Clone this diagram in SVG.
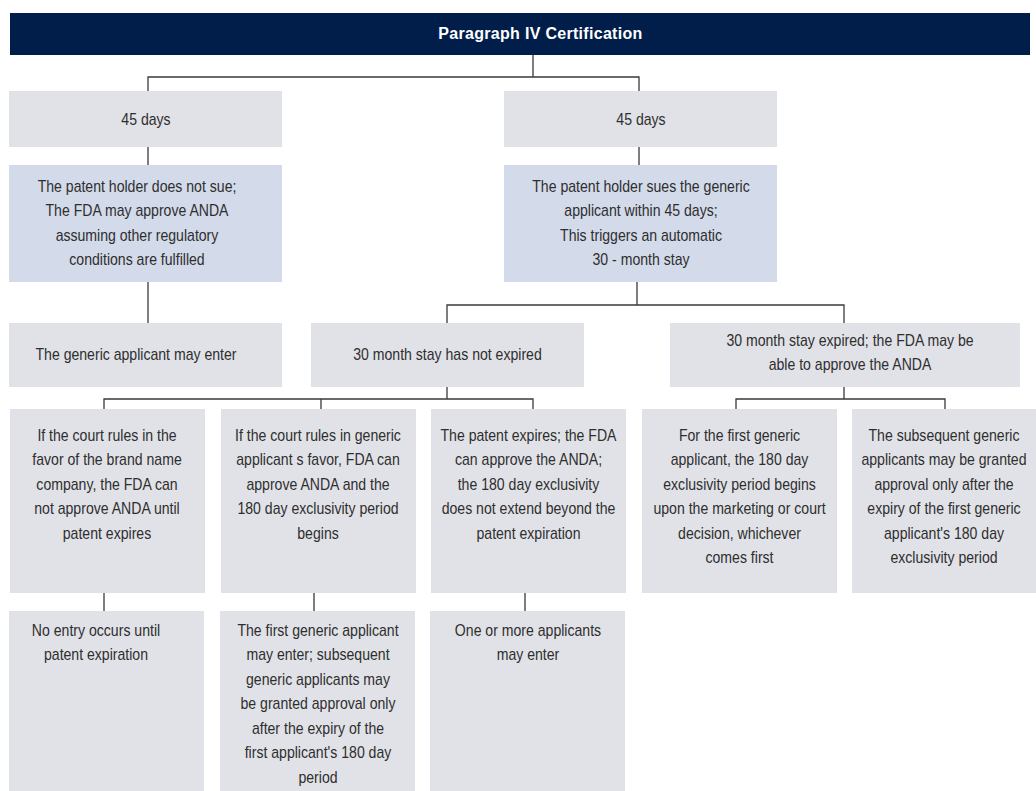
<svg xmlns="http://www.w3.org/2000/svg" width="1036" height="791" viewBox="0 0 1036 791">
  <style>
    .box { fill: #e1e2e7; }
    .hl { fill: #d3daea; }
    .hdr { fill: #011e4a; }
    .t { font-family: "Liberation Sans", Arial, sans-serif; font-size: 16px; fill: #2e2e2e; text-anchor: middle; }
    .ht { font-family: "Liberation Sans", Arial, sans-serif; font-size: 16px; font-weight: bold; fill: #ffffff; text-anchor: middle; letter-spacing: 0.3px; }
    .ln { fill: none; stroke: #3a3a3a; stroke-width: 1.3; }
  </style>
  <rect width="1036" height="791" fill="#ffffff"/>

  <!-- connectors -->
  <g id="connectors" class="ln">
    <path d="M533,55 V77 M148,91 V77 H639 V91"/>
    <path d="M148,147 V165 M639,147 V165"/>
    <path d="M148,282 V323"/>
    <path d="M637,282 V305 M447,323 V305 H844 V323"/>
    <path d="M447,387 V399 M104,409 V399 H533 V409 M321,399 V409"/>
    <path d="M844,387 V399 M736,409 V399 H945 V409"/>
    <path d="M104,593 V611 M314,593 V611 M525,593 V611"/>
  </g>

  <g id="header">
    <rect class="hdr" x="10" y="13" width="1020" height="42"/>
    <text class="ht" x="540.5" y="38.5">Paragraph IV Certification</text>
  </g>

  <!-- body text is set condensed: each label is centred on its own axis and squeezed horizontally -->
  <g id="days-left">
    <rect class="box" x="9" y="91" width="273" height="56"/>
    <text class="t" transform="translate(146 0) scale(0.88 1)" x="0" y="125">45 days</text>
  </g>
  <g id="days-right">
    <rect class="box" x="504" y="91" width="273" height="56"/>
    <text class="t" transform="translate(641 0) scale(0.88 1)" x="0" y="125">45 days</text>
  </g>

  <g id="no-suit">
    <rect class="hl" x="9" y="165" width="273" height="117"/>
    <text class="t" transform="translate(137 0) scale(0.88 1)" y="192"><tspan x="0">The patent holder does not sue;</tspan><tspan x="0" dy="24.5">The FDA may approve ANDA</tspan><tspan x="0" dy="24.5">assuming other regulatory</tspan><tspan x="0" dy="24.5">conditions are fulfilled</tspan></text>
  </g>
  <g id="suit">
    <rect class="hl" x="504" y="165" width="273" height="117"/>
    <text class="t" transform="translate(641 0) scale(0.88 1)" y="192"><tspan x="0">The patent holder sues the generic</tspan><tspan x="0" dy="24.5">applicant within 45 days;</tspan><tspan x="0" dy="24.5">This triggers an automatic</tspan><tspan x="0" dy="24.5">30 - month stay</tspan></text>
  </g>

  <g id="may-enter">
    <rect class="box" x="9" y="323" width="273" height="64"/>
    <text class="t" transform="translate(136 0) scale(0.88 1)" x="0" y="360">The generic applicant may enter</text>
  </g>
  <g id="stay-active">
    <rect class="box" x="311" y="323" width="273" height="64"/>
    <text class="t" transform="translate(447.5 0) scale(0.88 1)" x="0" y="360">30 month stay has not expired</text>
  </g>
  <g id="stay-expired">
    <rect class="box" x="670" y="323" width="350" height="64"/>
    <text class="t" transform="translate(850 0) scale(0.88 1)" y="346"><tspan x="0">30 month stay expired; the FDA may be</tspan><tspan x="0" dy="24.5">able to approve the ANDA</tspan></text>
  </g>

  <g id="brand-wins">
    <rect class="box" x="10" y="409" width="195" height="184"/>
    <text class="t" transform="translate(107 0) scale(0.88 1)" y="441"><tspan x="0">If the court rules in the</tspan><tspan x="0" dy="24.5">favor of the brand name</tspan><tspan x="0" dy="24.5">company, the FDA can</tspan><tspan x="0" dy="24.5">not approve ANDA until</tspan><tspan x="0" dy="24.5">patent expires</tspan></text>
  </g>
  <g id="generic-wins">
    <rect class="box" x="221" y="409" width="195" height="184"/>
    <text class="t" transform="translate(318 0) scale(0.88 1)" y="441"><tspan x="0">If the court rules in generic</tspan><tspan x="0" dy="24.5">applicant s favor, FDA can</tspan><tspan x="0" dy="24.5">approve ANDA and the</tspan><tspan x="0" dy="24.5">180 day exclusivity period</tspan><tspan x="0" dy="24.5">begins</tspan></text>
  </g>
  <g id="patent-expires">
    <rect class="box" x="431" y="409" width="195" height="184"/>
    <text class="t" transform="translate(528.5 0) scale(0.88 1)" y="441"><tspan x="0">The patent expires; the FDA</tspan><tspan x="0" dy="24.5">can approve the ANDA;</tspan><tspan x="0" dy="24.5">the 180 day exclusivity</tspan><tspan x="0" dy="24.5">does not extend beyond the</tspan><tspan x="0" dy="24.5">patent expiration</tspan></text>
  </g>
  <g id="first-applicant">
    <rect class="box" x="642" y="409" width="195" height="184"/>
    <text class="t" transform="translate(739.5 0) scale(0.88 1)" y="441"><tspan x="0">For the first generic</tspan><tspan x="0" dy="24.5">applicant, the 180 day</tspan><tspan x="0" dy="24.5">exclusivity period begins</tspan><tspan x="0" dy="24.5">upon the marketing or court</tspan><tspan x="0" dy="24.5">decision, whichever</tspan><tspan x="0" dy="24.5">comes first</tspan></text>
  </g>
  <g id="subsequent-applicants">
    <rect class="box" x="852" y="409" width="184" height="184"/>
    <text class="t" transform="translate(944 0) scale(0.88 1)" y="441"><tspan x="0">The subsequent generic</tspan><tspan x="0" dy="24.5">applicants may be granted</tspan><tspan x="0" dy="24.5">approval only after the</tspan><tspan x="0" dy="24.5">expiry of the first generic</tspan><tspan x="0" dy="24.5">applicant's 180 day</tspan><tspan x="0" dy="24.5">exclusivity period</tspan></text>
  </g>

  <g id="no-entry">
    <rect class="box" x="9" y="611" width="195" height="180"/>
    <text class="t" transform="translate(96 0) scale(0.88 1)" y="636"><tspan x="0">No entry occurs until</tspan><tspan x="0" dy="24.5">patent expiration</tspan></text>
  </g>
  <g id="first-enters">
    <rect class="box" x="220" y="611" width="195" height="180"/>
    <text class="t" transform="translate(318 0) scale(0.88 1)" y="636"><tspan x="0">The first generic applicant</tspan><tspan x="0" dy="24.5">may enter; subsequent</tspan><tspan x="0" dy="24.5">generic applicants may</tspan><tspan x="0" dy="24.5">be granted approval only</tspan><tspan x="0" dy="24.5">after the expiry of the</tspan><tspan x="0" dy="24.5">first applicant's 180 day</tspan><tspan x="0" dy="24.5">period</tspan></text>
  </g>
  <g id="any-enter">
    <rect class="box" x="430" y="611" width="195" height="180"/>
    <text class="t" transform="translate(528 0) scale(0.88 1)" y="636"><tspan x="0">One or more applicants</tspan><tspan x="0" dy="24.5">may enter</tspan></text>
  </g>
</svg>
